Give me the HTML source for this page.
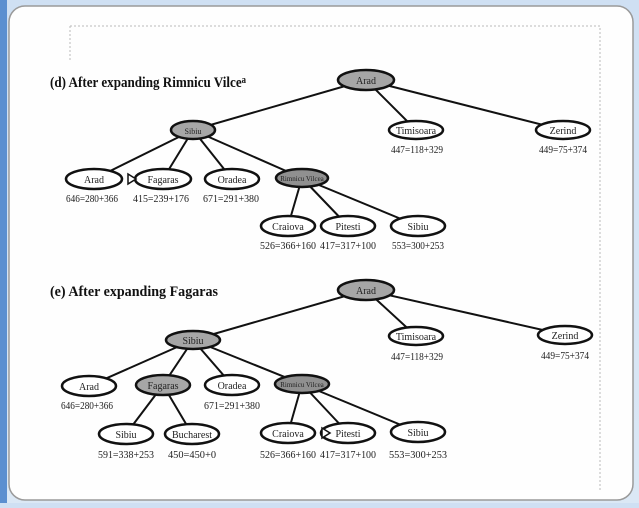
<!DOCTYPE html>
<html><head><style>
html,body{margin:0;padding:0;}
body{width:639px;height:503px;overflow:hidden;background:linear-gradient(#cfe0f3,#dbe8f5);}
</style></head><body>
<svg width="639" height="503" viewBox="0 0 639 503" xmlns="http://www.w3.org/2000/svg" font-family="Liberation Serif, serif">
<rect x="0" y="0" width="7" height="503" fill="#5b8fd0"/>
<rect x="9" y="6" width="624" height="494" rx="16" fill="#fefefe" stroke="#9a9a9a" stroke-width="1.5"/>
<path d="M70 26 H600 V490" fill="none" stroke="#bbb" stroke-dasharray="2,2"/>
<line x1="70" y1="26" x2="70" y2="60" stroke="#bbb" stroke-dasharray="2,2"/>
<g stroke="#111" stroke-width="2" fill="none">
<line x1="366" y1="80" x2="193" y2="130"/><line x1="366" y1="80" x2="416" y2="130"/><line x1="366" y1="80" x2="563" y2="130"/>
<line x1="193" y1="130" x2="94" y2="179"/><line x1="193" y1="130" x2="163" y2="179"/><line x1="193" y1="130" x2="232" y2="179"/><line x1="193" y1="130" x2="302" y2="178"/>
<line x1="302" y1="178" x2="288" y2="226"/><line x1="302" y1="178" x2="348" y2="226"/><line x1="302" y1="178" x2="418" y2="226"/>
<line x1="366" y1="290" x2="193" y2="340"/><line x1="366" y1="290" x2="416" y2="336"/><line x1="366" y1="290" x2="565" y2="335"/>
<line x1="193" y1="340" x2="89" y2="386"/><line x1="193" y1="340" x2="163" y2="385"/><line x1="193" y1="340" x2="232" y2="385"/><line x1="193" y1="340" x2="302" y2="384"/>
<line x1="163" y1="385" x2="126" y2="434"/><line x1="163" y1="385" x2="192" y2="434"/>
<line x1="302" y1="384" x2="288" y2="433"/><line x1="302" y1="384" x2="348" y2="433"/><line x1="302" y1="384" x2="418" y2="432"/>
</g>
<g stroke="#111" stroke-width="2.5">
<ellipse cx="366" cy="80" rx="28" ry="10" fill="#a6a6a6"/>
<ellipse cx="193" cy="130" rx="22" ry="9" fill="#a6a6a6"/>
<ellipse cx="416" cy="130" rx="27" ry="9" fill="#fff"/>
<ellipse cx="563" cy="130" rx="27" ry="9" fill="#fff"/>
<ellipse cx="94" cy="179" rx="28" ry="10" fill="#fff"/>
<ellipse cx="163" cy="179" rx="28" ry="10" fill="#fff"/>
<ellipse cx="232" cy="179" rx="27" ry="10" fill="#fff"/>
<ellipse cx="302" cy="178" rx="26" ry="9" fill="#909090"/>
<ellipse cx="288" cy="226" rx="27" ry="10" fill="#fff"/>
<ellipse cx="348" cy="226" rx="27" ry="10" fill="#fff"/>
<ellipse cx="418" cy="226" rx="27" ry="10" fill="#fff"/>
<ellipse cx="366" cy="290" rx="28" ry="10" fill="#a6a6a6"/>
<ellipse cx="193" cy="340" rx="27" ry="9" fill="#a6a6a6"/>
<ellipse cx="416" cy="336" rx="27" ry="9" fill="#fff"/>
<ellipse cx="565" cy="335" rx="27" ry="9" fill="#fff"/>
<ellipse cx="89" cy="386" rx="27" ry="10" fill="#fff"/>
<ellipse cx="163" cy="385" rx="27" ry="10" fill="#a6a6a6"/>
<ellipse cx="232" cy="385" rx="27" ry="10" fill="#fff"/>
<ellipse cx="302" cy="384" rx="27" ry="9" fill="#909090"/>
<ellipse cx="126" cy="434" rx="27" ry="10" fill="#fff"/>
<ellipse cx="192" cy="434" rx="27" ry="10" fill="#fff"/>
<ellipse cx="288" cy="433" rx="27" ry="10" fill="#fff"/>
<ellipse cx="348" cy="433" rx="27" ry="10" fill="#fff"/>
<ellipse cx="418" cy="432" rx="27" ry="10" fill="#fff"/>
</g>
<path d="M128 174 L136 179 L128 184 Z" fill="#fff" stroke="#111" stroke-width="1.5"/>
<path d="M322 428 L330 433 L322 438 Z" fill="#fff" stroke="#111" stroke-width="1.5"/>
<g font-size="10" text-anchor="middle" fill="#222">
<text x="366" y="84">Arad</text><text x="193" y="134" font-size="8">Sibiu</text>
<text x="416" y="134">Timisoara</text><text x="563" y="134">Zerind</text>
<text x="94" y="183">Arad</text><text x="163" y="183">Fagaras</text><text x="232" y="183">Oradea</text>
<text x="302" y="181" font-size="7">Rimnicu Vilcea</text>
<text x="288" y="230">Craiova</text><text x="348" y="230">Pitesti</text><text x="418" y="230">Sibiu</text>
<text x="366" y="294">Arad</text><text x="193" y="344">Sibiu</text>
<text x="416" y="340">Timisoara</text><text x="565" y="339">Zerind</text>
<text x="89" y="390">Arad</text><text x="163" y="389">Fagaras</text><text x="232" y="389">Oradea</text>
<text x="302" y="387" font-size="7">Rimnicu Vilcea</text>
<text x="126" y="438">Sibiu</text><text x="192" y="438">Bucharest</text>
<text x="288" y="437">Craiova</text><text x="348" y="437">Pitesti</text><text x="418" y="436">Sibiu</text>
</g>
<g font-size="10.5" text-anchor="middle" fill="#222" lengthAdjust="spacingAndGlyphs">
<text x="417" y="153" textLength="52" lengthAdjust="spacingAndGlyphs">447=118+329</text><text x="563" y="153" textLength="48" lengthAdjust="spacingAndGlyphs">449=75+374</text>
<text x="92" y="202" textLength="52" lengthAdjust="spacingAndGlyphs">646=280+366</text><text x="161" y="202" textLength="56" lengthAdjust="spacingAndGlyphs">415=239+176</text><text x="231" y="202" textLength="56" lengthAdjust="spacingAndGlyphs">671=291+380</text>
<text x="288" y="249" textLength="56" lengthAdjust="spacingAndGlyphs">526=366+160</text><text x="348" y="249" textLength="56" lengthAdjust="spacingAndGlyphs">417=317+100</text><text x="418" y="249" textLength="52" lengthAdjust="spacingAndGlyphs">553=300+253</text>
<text x="417" y="360" textLength="52" lengthAdjust="spacingAndGlyphs">447=118+329</text><text x="565" y="359" textLength="48" lengthAdjust="spacingAndGlyphs">449=75+374</text>
<text x="87" y="409" textLength="52" lengthAdjust="spacingAndGlyphs">646=280+366</text><text x="232" y="409" textLength="56" lengthAdjust="spacingAndGlyphs">671=291+380</text>
<text x="126" y="458" textLength="56" lengthAdjust="spacingAndGlyphs">591=338+253</text><text x="192" y="458" textLength="48" lengthAdjust="spacingAndGlyphs">450=450+0</text>
<text x="288" y="458" textLength="56" lengthAdjust="spacingAndGlyphs">526=366+160</text><text x="348" y="458" textLength="56" lengthAdjust="spacingAndGlyphs">417=317+100</text><text x="418" y="458" textLength="58" lengthAdjust="spacingAndGlyphs">553=300+253</text>
</g>
<g font-weight="bold" font-size="15" fill="#111">
<text x="50" y="87" textLength="196" lengthAdjust="spacingAndGlyphs">(d) After expanding Rimnicu Vilce<tspan font-size="10" dy="-4">a</tspan></text>
<text x="50" y="296" textLength="168" lengthAdjust="spacingAndGlyphs">(e) After expanding Fagaras</text>
</g>
</svg>
</body></html>
